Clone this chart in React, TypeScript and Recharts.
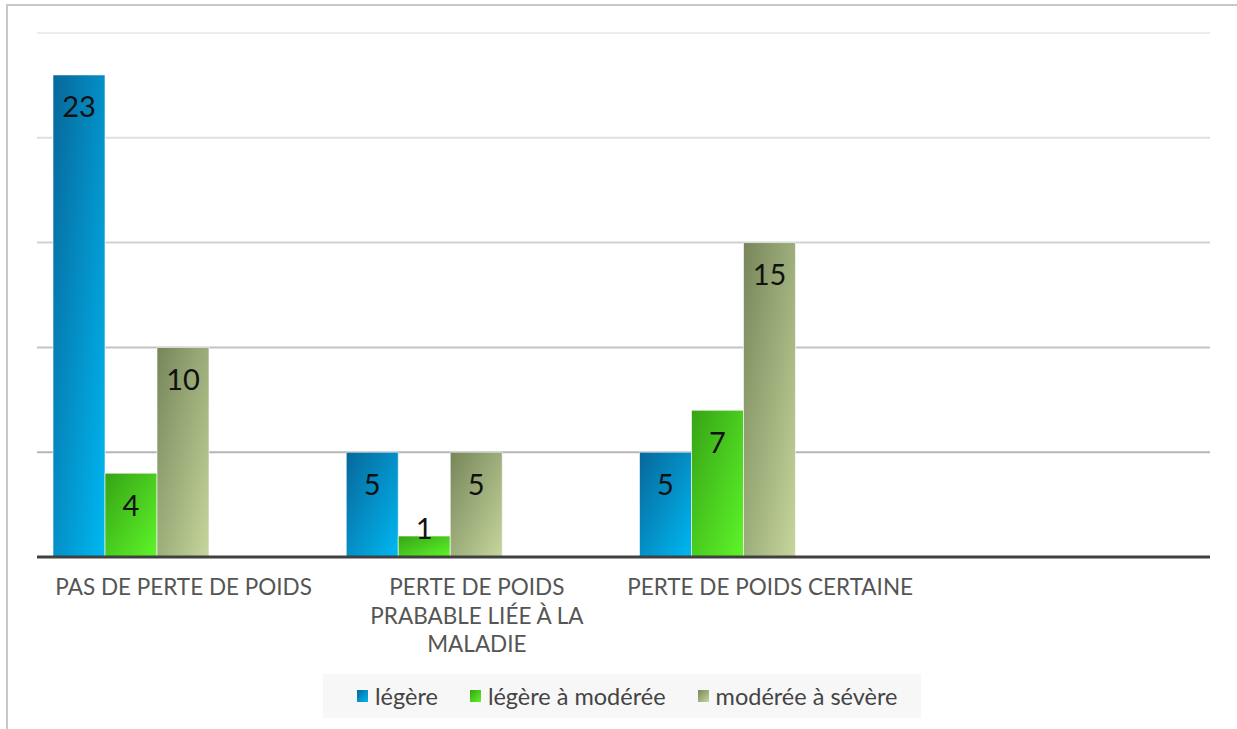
import React from "react";
import { BarChart, Bar, XAxis, YAxis, CartesianGrid, LabelList } from "recharts";

const categories = [
  "PAS DE PERTE DE POIDS",
  "PERTE DE POIDS\nPRABABLE LIÉE À LA\nMALADIE",
  "PERTE DE POIDS CERTAINE",
  "",
];
const legere = [23, 5, 5, null];
const legereModeree = [4, 1, 7, null];
const modereeSevere = [10, 5, 15, null];
const serie4: (number | null)[] = [null, null, null, null];
const serie5: (number | null)[] = [null, null, null, null];
const yTicks = [0, 5, 10, 15, 20, 25];
const seriesNames = ["légère", "légère à modérée", "modérée à sévère"];

const data = categories.map((c, i) => ({
  cat: c,
  legere: legere[i],
  legereModeree: legereModeree[i],
  modereeSevere: modereeSevere[i],
  s4: serie4[i],
  s5: serie5[i],
}));

const FONT = "Lato, 'Open Sans', sans-serif";

const gradients = [
  { id: "gBlue", from: "#07679a", to: "#00b8f2" },
  { id: "gGreen", from: "#36a315", to: "#5ef52a" },
  { id: "gOlive", from: "#76865a", to: "#c6d69c" },
];

const Tick = (props: any) => {
  const { x, y, payload } = props;
  const lines = String(payload.value).split("\n");
  return (
    <g>
      {lines.map((l, i) => (
        <text
          key={i}
          x={x}
          y={y + 38 + i * 28.5}
          textAnchor="middle"
          fontFamily={FONT}
          fontSize={22.5}
          fill="#555555"
        >
          {l}
        </text>
      ))}
    </g>
  );
};

const ValueLabel = (props: any) => {
  const { x, y, width, height, value } = props;
  if (value === null || value === undefined) return null;
  const cy = height >= 50 ? y + 31 : y - 9;
  return (
    <text
      x={x + width / 2}
      y={cy}
      textAnchor="middle"
      dominantBaseline="central"
      fontFamily={FONT}
      fontSize={29}
      fill="#111111"
    >
      {value}
    </text>
  );
};

const LegendBox = () => (
  <div
    style={{
      position: "absolute",
      left: 323,
      top: 674,
      width: 598,
      height: 44,
      background: "#f7f7f7",
      display: "flex",
      alignItems: "center",
      paddingLeft: 34,
      boxSizing: "border-box",
      fontFamily: FONT,
      fontSize: 23.5,
      color: "#444444",
      whiteSpace: "nowrap",
    }}
  >
    {seriesNames.map((n, i) => (
      <div key={n} style={{ display: "flex", alignItems: "center", marginRight: 32, flexShrink: 0 }}>
        <div
          style={{
            width: 11,
            height: 12,
            marginRight: 7,
            flexShrink: 0,
            background: `linear-gradient(135deg, ${gradients[i].from}, ${gradients[i].to})`,
          }}
        />
        <span>{n}</span>
      </div>
    ))}
  </div>
);

export default function App() {
  return (
    <div style={{ position: "absolute", left: 0, top: 0, width: 1237, height: 729, overflow: "hidden", background: "#fff" }}>
      <div
        style={{
          position: "absolute",
          left: 6,
          top: 4,
          width: 1260,
          height: 760,
          borderTop: "2px solid #c8c8c8",
          borderLeft: "2px solid #c8c8c8",
        }}
      />
      <BarChart
        width={1237}
        height={729}
        data={data}
        margin={{ top: 33, right: 27, bottom: 142, left: 37 }}
        barGap={0}
        barCategoryGap={16}
      >
        <defs>
          {gradients.map((g) => (
            <linearGradient key={g.id} id={g.id} x1="0" y1="0" x2="1" y2="1">
              <stop offset="0%" stopColor={g.from} />
              <stop offset="100%" stopColor={g.to} />
            </linearGradient>
          ))}
          <linearGradient id="gridGrad" gradientUnits="userSpaceOnUse" x1="0" y1="33" x2="0" y2="557">
            <stop offset="0%" stopColor="#ececec" />
            <stop offset="100%" stopColor="#a8a8a8" />
          </linearGradient>
        </defs>
        <CartesianGrid vertical={false} stroke="url(#gridGrad)" strokeWidth={2} />
        <YAxis hide domain={[0, 25]} ticks={yTicks} />
        <XAxis
          dataKey="cat"
          height={30}
          axisLine={{ stroke: "#404040", strokeWidth: 3 }}
          tickLine={false}
          tickSize={0}
          tickMargin={0}
          interval={0}
          tick={<Tick />}
        />
        <Bar dataKey="legere" fill="url(#gBlue)" stroke="rgba(255,255,255,0.6)" strokeWidth={1} isAnimationActive={false}>
          <LabelList dataKey="legere" content={<ValueLabel />} />
        </Bar>
        <Bar dataKey="legereModeree" fill="url(#gGreen)" stroke="rgba(255,255,255,0.6)" strokeWidth={1} isAnimationActive={false}>
          <LabelList dataKey="legereModeree" content={<ValueLabel />} />
        </Bar>
        <Bar dataKey="modereeSevere" fill="url(#gOlive)" stroke="rgba(255,255,255,0.6)" strokeWidth={1} isAnimationActive={false}>
          <LabelList dataKey="modereeSevere" content={<ValueLabel />} />
        </Bar>
        <Bar dataKey="s4" fill="#888" isAnimationActive={false} />
        <Bar dataKey="s5" fill="#888" isAnimationActive={false} />
      </BarChart>
      <LegendBox />
    </div>
  );
}
